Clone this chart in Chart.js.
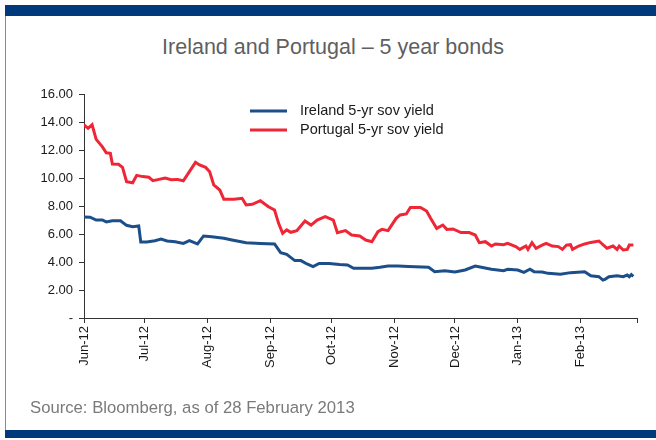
<!DOCTYPE html>
<html>
<head>
<meta charset="utf-8">
<script src="https://cdn.jsdelivr.net/npm/chart.js@4/dist/chart.umd.min.js"></script>
<style>
  html, body { margin: 0; padding: 0; background: #fff; }
  #wrap { position: relative; width: 656px; height: 440px; overflow: hidden; font-family: "Liberation Sans", Arial, sans-serif; }
  #topbar { position: absolute; left: 5px; top: 5px; width: 651px; height: 11px; background: #003a7d; }
  #botbar { position: absolute; left: 5px; top: 430px; width: 651px; height: 8px; background: #003a7d; }
  #leftline { position: absolute; left: 5px; top: 16px; width: 1px; height: 414px; background: #8a8a8a; }
  #title { position: absolute; left: 0; width: 666px; top: 35px; text-align: center; font-size: 21.5px; color: #5f5f5f; }
  #source { position: absolute; left: 30px; top: 398px; font-size: 16.7px; color: #7a7a7a; }
  canvas { position: absolute; left: 0; top: 0; }
</style>
</head>
<body>
<div id="wrap">
  <div id="topbar"></div>
  <div id="leftline"></div>
  <div id="title">Ireland and Portugal – 5 year bonds</div>
  <canvas id="chart" width="656" height="440"></canvas>
  <div id="source">Source: Bloomberg, as of 28 February 2013</div>
  <div id="botbar"></div>
</div>
<script>
// days counted from 1 Jun 2012
const monthDays = [0, 30, 61, 92, 122, 153, 183, 214, 245, 273];
const monthLabels = ["Jun-12", "Jul-12", "Aug-12", "Sep-12", "Oct-12", "Nov-12", "Dec-12", "Jan-13", "Feb-13", ""];

const irelandDays = [0, 3, 6, 9, 11, 14, 18, 21, 24, 27, 28, 31, 35, 38, 41, 45, 49, 52, 56, 59, 63, 69, 73, 80, 87, 94,
  97, 100, 104, 107, 110, 113, 116, 121, 126, 130, 133, 138, 142, 146, 150, 155, 160, 170, 173, 178, 183, 188, 193, 196,
  201, 207, 209, 214, 217, 220, 222, 226, 229, 235, 240, 247, 250, 254, 256, 257, 259, 263, 266, 268, 269, 270, 271];
const irelandYield = [7.22, 7.2, 7.0, 7.0, 6.86, 6.95, 6.95, 6.62, 6.52, 6.57, 5.43, 5.43, 5.52, 5.64, 5.5, 5.45, 5.33, 5.52,
  5.29, 5.86, 5.81, 5.69, 5.57, 5.38, 5.33, 5.29, 4.67, 4.55, 4.1, 4.1, 3.86, 3.67, 3.9, 3.9, 3.83, 3.79, 3.55, 3.55, 3.55,
  3.62, 3.71, 3.71, 3.67, 3.62, 3.31, 3.38, 3.29, 3.43, 3.71, 3.62, 3.48, 3.38, 3.48, 3.43, 3.26, 3.48, 3.31, 3.29, 3.19,
  3.12, 3.24, 3.31, 3.02, 2.95, 2.71, 2.76, 2.95, 3.02, 2.95, 3.07, 2.95, 3.1, 2.98];

const portugalDays = [0, 2, 4, 6, 9, 11, 13, 14, 17, 19, 21, 24, 26, 29, 32, 34, 37, 40, 43, 46, 49, 52, 55, 57, 60, 62, 64,
  67, 69, 74, 78, 80, 83, 87, 91, 94, 96, 98, 100, 102, 105, 109, 112, 115, 119, 123, 125, 129, 132, 136, 139, 142, 145,
  147, 150, 154, 156, 159, 161, 166, 169, 171, 174, 177, 179, 182, 186, 190, 193, 195, 198, 201, 203, 207, 209, 213, 215,
  218, 219, 221, 223, 226, 228, 231, 234, 236, 238, 240, 241, 244, 247, 250, 254, 258, 261, 263, 264, 266, 268, 269, 271];
const portugalYield = [13.8, 13.55, 13.8, 12.76, 12.24, 11.8, 11.76, 11.0, 10.98, 10.76, 9.74, 9.66, 10.19, 10.1, 10.05,
  9.81, 9.9, 10.0, 9.88, 9.9, 9.8, 10.45, 11.12, 10.93, 10.76, 10.45, 9.5, 9.14, 8.48, 8.48, 8.55, 8.07, 8.12, 8.38, 7.95,
  7.71, 6.76, 6.05, 6.29, 6.12, 6.24, 6.93, 6.64, 7.0, 7.24, 7.0, 6.1, 6.24, 5.93, 5.86, 5.57, 5.45, 6.17, 6.33, 6.24, 7.12,
  7.36, 7.43, 7.9, 7.9, 7.64, 7.12, 6.4, 6.64, 6.33, 6.36, 6.1, 6.1, 5.93, 5.38, 5.45, 5.14, 5.29, 5.24, 5.33, 5.1, 4.9,
  5.14, 4.9, 5.38, 4.98, 5.21, 5.33, 5.14, 5.1, 4.9, 5.21, 5.24, 4.9, 5.14, 5.29, 5.4, 5.5, 4.98, 5.14, 4.9, 5.14, 4.86,
  4.9, 5.21, 5.21];

const yTicks = [0, 2, 4, 6, 8, 10, 12, 14, 16];

function toPoints(days, values) {
  return days.map((d, i) => ({ x: d, y: values[i] }));
}

// legend drawn inside the plot, stacked, with short line samples
const insideLegend = {
  id: "insideLegend",
  afterDatasetsDraw(chart) {
    const ctx = chart.ctx;
    ctx.save();
    ctx.font = "14.5px 'Liberation Sans', Arial, sans-serif";
    ctx.textBaseline = "middle";
    chart.data.datasets.forEach((ds, i) => {
      const y = 111 + i * 19;
      ctx.strokeStyle = ds.borderColor;
      ctx.lineWidth = 3;
      ctx.beginPath();
      ctx.moveTo(250, y);
      ctx.lineTo(287, y);
      ctx.stroke();
      ctx.fillStyle = "#1a1a1a";
      ctx.fillText(ds.label, 300, y);
    });
    ctx.restore();
  },
};

new Chart(document.getElementById("chart"), {
  type: "line",
  data: {
    datasets: [
      {
        label: "Ireland 5-yr sov yield",
        data: toPoints(irelandDays, irelandYield),
        borderColor: "#1c4f8a",
        borderWidth: 3,
        pointRadius: 0,
        tension: 0,
      },
      {
        label: "Portugal 5-yr sov yield",
        data: toPoints(portugalDays, portugalYield),
        borderColor: "#ee2636",
        borderWidth: 3,
        pointRadius: 0,
        tension: 0,
      },
    ],
  },
  options: {
    responsive: false,
    animation: false,
    layout: { padding: { top: 94, right: 16, bottom: 0, left: 0 } },
    plugins: {
      legend: { display: false },
      tooltip: { enabled: false },
    },
    scales: {
      x: {
        type: "linear",
        min: 0,
        max: 273,
        afterBuildTicks: (scale) => {
          scale.ticks = monthDays.map((v) => ({ value: v }));
        },
        afterFit: (scale) => {
          scale.height = 122;
        },
        ticks: {
          autoSkip: false,
          minRotation: 90,
          maxRotation: 90,
          padding: 3,
          color: "#1a1a1a",
          font: { family: "'Liberation Sans', Arial, sans-serif", size: 13 },
          callback: (v) => monthLabels[monthDays.indexOf(v)],
        },
        grid: { drawOnChartArea: false, drawTicks: true, tickLength: 5, color: "#333" },
        border: { color: "#333", width: 1 },
      },
      y: {
        min: 0,
        max: 16,
        afterBuildTicks: (scale) => {
          scale.ticks = yTicks.map((v) => ({ value: v }));
        },
        afterFit: (scale) => {
          scale.width = 84;
        },
        ticks: {
          padding: 6,
          color: "#1a1a1a",
          font: { family: "'Liberation Sans', Arial, sans-serif", size: 13 },
          callback: (v) => (v === 0 ? "-" : v.toFixed(2)),
        },
        grid: { drawOnChartArea: false, drawTicks: true, tickLength: 5, color: "#333" },
        border: { color: "#333", width: 1 },
      },
    },
  },
  plugins: [insideLegend],
});
</script>
</body>
</html>
